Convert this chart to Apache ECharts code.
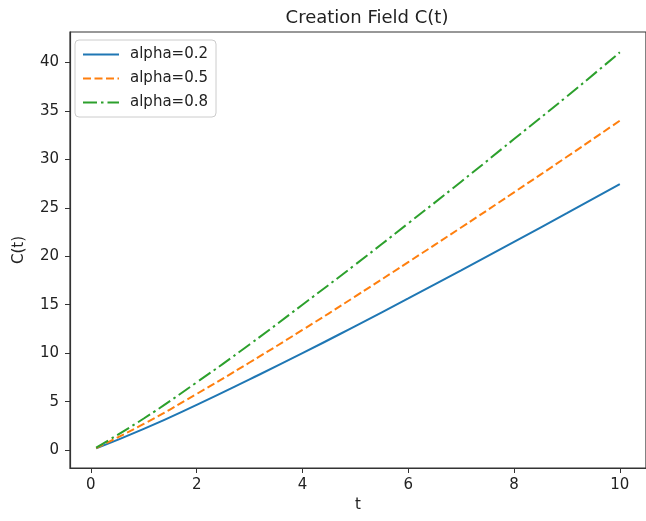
<!DOCTYPE html>
<html>
<head>
<meta charset="utf-8">
<script src="https://cdn.jsdelivr.net/npm/echarts@6/dist/echarts.min.js"></script>
<style>
html,body{margin:0;padding:0;background:#fff;}
#main{width:646px;height:521px;}
</style>
</head>
<body>
<div id="main"></div>
<script>
// values
var tValues = [0.1, 1, 2, 3, 4, 5, 6, 7, 8, 9, 10];
var alpha02 = [0.17, 2.18, 4.67, 7.30, 10.0, 12.8, 15.65, 18.55, 21.5, 24.45, 27.45];
var alpha05 = [0.21, 2.70, 5.79, 9.04, 12.4, 15.86, 19.4, 22.97, 26.6, 30.27, 34.0];
var alpha08 = [0.26, 3.26, 6.99, 10.9, 15.0, 19.15, 23.4, 27.7, 32.1, 36.5, 41.05];
var xTicks = [0, 2, 4, 6, 8, 10];
var yTicks = [0, 5, 10, 15, 20, 25, 30, 35, 40];

function pairs(vals){
	var out = [];
	for(var i=0;i<tValues.length;i++){
		out.push([tValues[i], vals[i]]);
	}
	return out;
}

var FONT = 'DejaVu Sans';
var chart = echarts.init(document.getElementById('main'));
var option = {
	animation:false,
	backgroundColor:'#fff',
	title:{
		text:'Creation Field C(t)',
		left:362,
		textAlign:'center',
		top:4,
		textStyle:{fontFamily:FONT,fontSize:18,fontWeight:'normal',color:'#222'}
	},
	legend:{
		orient:'vertical',
		left:75,
		top:40,
		padding:[7,8,7,7],
		itemWidth:36,
		itemHeight:14,
		itemGap:9,
		backgroundColor:'rgba(255,255,255,0.8)',
		borderColor:'#ccc',
		borderWidth:1,
		borderRadius:4,
		itemStyle:{opacity:0},
		textStyle:{fontFamily:FONT,fontSize:15,color:'#222',padding:[0,0,0,6]},
		data:['alpha=0.2','alpha=0.5','alpha=0.8']
	},
	grid:{
		left:70,
		top:32,
		width:584,
		height:436,
		show:true,
		borderColor:'#333',
		borderWidth:1.2,
		containLabel:false
	},
	xAxis:{
		type:'value',
		min:-0.395,
		max:10.495,
		name:'t',
		nameLocation:'middle',
		nameGap:30,
		nameTextStyle:{fontFamily:FONT,fontSize:15,color:'#222'},
		axisLine:{show:true,onZero:false,lineStyle:{color:'#333',width:1.2}},
		axisTick:{show:true,length:5,customValues:xTicks,lineStyle:{color:'#333'}},
		axisLabel:{customValues:xTicks,margin:10,fontFamily:FONT,fontSize:15,color:'#222'},
		splitLine:{show:false}
	},
	yAxis:{
		type:'value',
		min:-1.85,
		max:43.15,
		name:'C(t)',
		nameLocation:'middle',
		nameGap:43,
		nameTextStyle:{fontFamily:FONT,fontSize:15,color:'#222'},
		axisLine:{show:true,onZero:false,lineStyle:{color:'#333',width:1.2}},
		axisTick:{show:true,length:5,customValues:yTicks,lineStyle:{color:'#333'}},
		axisLabel:{customValues:yTicks,margin:11,fontFamily:FONT,fontSize:15,color:'#222'},
		splitLine:{show:false}
	},
	series:[
		{
			name:'alpha=0.2',
			type:'line',
			symbol:'none',
			smooth:true,
			data:pairs(alpha02),
			lineStyle:{color:'#1f77b4',width:2,type:'solid'},
			itemStyle:{color:'#1f77b4'}
		},
		{
			name:'alpha=0.5',
			type:'line',
			symbol:'none',
			smooth:true,
			data:pairs(alpha05),
			lineStyle:{color:'#ff7f0e',width:2,type:[8,3.5]},
			itemStyle:{color:'#ff7f0e'}
		},
		{
			name:'alpha=0.8',
			type:'line',
			symbol:'none',
			smooth:true,
			data:pairs(alpha08),
			lineStyle:{color:'#2ca02c',width:2,type:[14,4,2.5,4]},
			itemStyle:{color:'#2ca02c'}
		}
	]
};
chart.setOption(option);
</script>
</body>
</html>
